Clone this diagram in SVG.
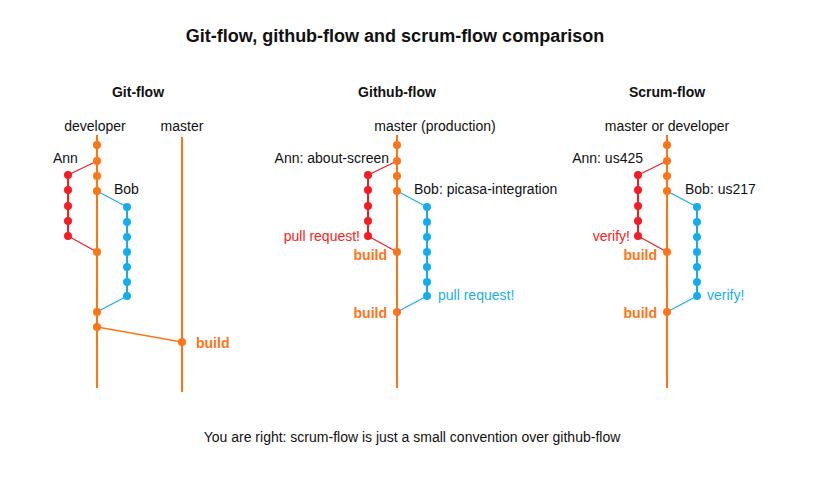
<svg xmlns="http://www.w3.org/2000/svg" width="815" height="480" viewBox="0 0 815 480">
<style>
text{font-family:"Liberation Sans",Arial,sans-serif;font-size:14px;fill:#111}
.h{font-weight:bold}
.t{font-weight:bold;font-size:18px}
.o{fill:#FF7417}.r{fill:#F21D25}.b{fill:#16ADEF}
.ob{fill:#FF7417;font-weight:bold}
.rl{fill:#FF2020}.bl{fill:#1AAEF0}
.m{stroke:#FF7417;stroke-width:2;fill:none}
.ra{stroke:#F21D25;stroke-width:2;fill:none}
.ba{stroke:#16ADEF;stroke-width:2;fill:none}
.rc{stroke:#F21D25;stroke-width:1.2;fill:none}
.bc{stroke:#16ADEF;stroke-width:1.2;fill:none}
.oc{stroke:#FF7417;stroke-width:1.5;fill:none}
</style>
<defs>
<circle id="d" r="4"/>
</defs>
<text class="t" x="395" y="42" text-anchor="middle">Git-flow, github-flow and scrum-flow comparison</text>
<text x="412" y="442" text-anchor="middle">You are right: scrum-flow is just a small convention over github-flow</text>

<g id="connectors">
<!-- git-flow -->
<path class="m" d="M97,135V388"/>
<path class="m" d="M182,137V392"/>
<path class="ra" d="M68,175V236"/>
<path class="ba" d="M127,207V296"/>
<path class="rc" d="M97,161L68,175M68,236L97,252"/>
<path class="bc" d="M97,191L127,207M127,296L97,312"/>
<path class="oc" d="M97,327L182,342"/>
<!-- github -->
<path class="m" d="M397,135V388"/>
<path class="ra" d="M368,175V236"/>
<path class="ba" d="M427,207V296"/>
<path class="rc" d="M397,161L368,175M368,236L397,252"/>
<path class="bc" d="M397,191L427,207M427,296L397,312"/>
<!-- scrum -->
<path class="m" d="M667,135V388"/>
<path class="ra" d="M638,175V236"/>
<path class="ba" d="M697,207V296"/>
<path class="rc" d="M667,161L638,175M638,236L667,252"/>
<path class="bc" d="M667,191L697,207M697,296L667,312"/>
</g>

<g id="gitflow">
<text class="h" x="138" y="97" text-anchor="middle">Git-flow</text>
<text x="95" y="131" text-anchor="middle">developer</text>
<text x="182" y="131" text-anchor="middle">master</text>
<text x="53" y="163">Ann</text>
<text x="114" y="194">Bob</text>
<text class="ob" x="196" y="348">build</text>
<g class="o"><use href="#d" x="97" y="145"/><use href="#d" x="97" y="161"/><use href="#d" x="97" y="176"/><use href="#d" x="97" y="191"/><use href="#d" x="97" y="252"/><use href="#d" x="97" y="312"/><use href="#d" x="97" y="327"/><use href="#d" x="182" y="342"/></g>
<g class="r"><use href="#d" x="68" y="175"/><use href="#d" x="68" y="190"/><use href="#d" x="68" y="206"/><use href="#d" x="68" y="221"/><use href="#d" x="68" y="236"/></g>
<g class="b"><use href="#d" x="127" y="207"/><use href="#d" x="127" y="222"/><use href="#d" x="127" y="237"/><use href="#d" x="127" y="252"/><use href="#d" x="127" y="267"/><use href="#d" x="127" y="282"/><use href="#d" x="127" y="296"/></g>
</g>

<g id="githubflow">
<text class="h" x="397" y="97" text-anchor="middle">Github-flow</text>
<text x="435" y="131" text-anchor="middle">master (production)</text>
<text x="389" y="163" text-anchor="end">Ann: about-screen</text>
<text x="414" y="194">Bob: picasa-integration</text>
<text class="rl" x="360" y="241" text-anchor="end">pull request!</text>
<text class="ob" x="387" y="260" text-anchor="end">build</text>
<text class="bl" x="438" y="300">pull request!</text>
<text class="ob" x="387" y="318" text-anchor="end">build</text>
<g class="o"><use href="#d" x="397" y="145"/><use href="#d" x="397" y="161"/><use href="#d" x="397" y="176"/><use href="#d" x="397" y="191"/><use href="#d" x="397" y="252"/><use href="#d" x="397" y="312"/></g>
<g class="r"><use href="#d" x="368" y="175"/><use href="#d" x="368" y="190"/><use href="#d" x="368" y="206"/><use href="#d" x="368" y="221"/><use href="#d" x="368" y="236"/></g>
<g class="b"><use href="#d" x="427" y="207"/><use href="#d" x="427" y="222"/><use href="#d" x="427" y="237"/><use href="#d" x="427" y="252"/><use href="#d" x="427" y="267"/><use href="#d" x="427" y="282"/><use href="#d" x="427" y="296"/></g>
</g>

<g id="scrumflow">
<text class="h" x="667" y="97" text-anchor="middle">Scrum-flow</text>
<text x="667" y="131" text-anchor="middle">master or developer</text>
<text x="643" y="163" text-anchor="end">Ann: us425</text>
<text x="685" y="194">Bob: us217</text>
<text class="rl" x="630" y="241" text-anchor="end">verify!</text>
<text class="ob" x="657" y="260" text-anchor="end">build</text>
<text class="bl" x="707" y="300">verify!</text>
<text class="ob" x="657" y="318" text-anchor="end">build</text>
<g class="o"><use href="#d" x="667" y="145"/><use href="#d" x="667" y="161"/><use href="#d" x="667" y="176"/><use href="#d" x="667" y="191"/><use href="#d" x="667" y="252"/><use href="#d" x="667" y="312"/></g>
<g class="r"><use href="#d" x="638" y="175"/><use href="#d" x="638" y="190"/><use href="#d" x="638" y="206"/><use href="#d" x="638" y="221"/><use href="#d" x="638" y="236"/></g>
<g class="b"><use href="#d" x="697" y="207"/><use href="#d" x="697" y="222"/><use href="#d" x="697" y="237"/><use href="#d" x="697" y="252"/><use href="#d" x="697" y="267"/><use href="#d" x="697" y="282"/><use href="#d" x="697" y="296"/></g>
</g>
</svg>
